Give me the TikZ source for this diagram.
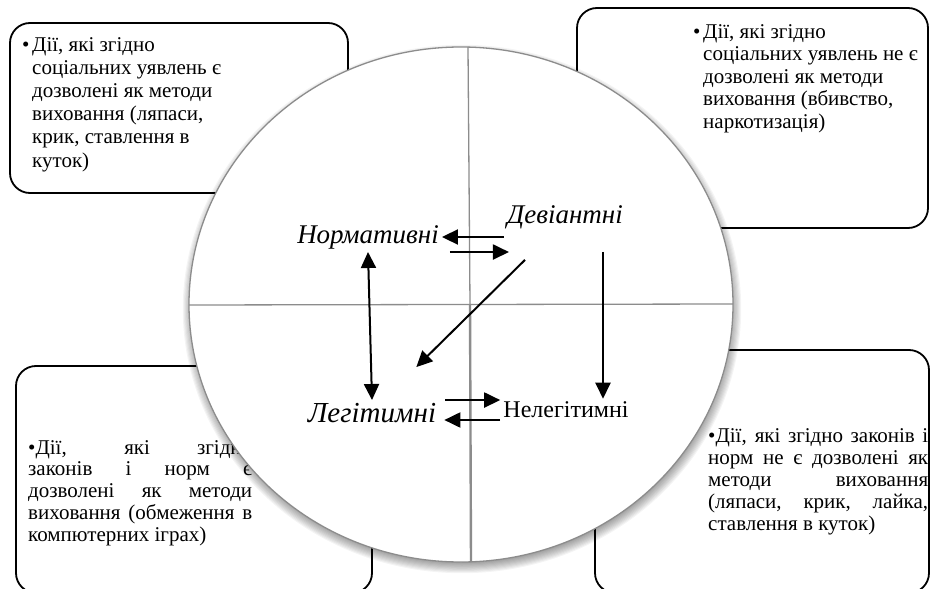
\documentclass[tikz,border=0pt]{standalone}
\usepackage{fontspec}
\setmainfont{Liberation Serif}
\usetikzlibrary{arrows.meta}
\tikzset{
  notebox/.style={draw=black, line width=1.8pt, rounded corners=20pt},
  boxtext/.style={anchor=north west, inner sep=0pt, font=\fontsize{21}{22.6}\selectfont},
  lbl/.style={inner sep=3pt, font=\fontsize{27}{30}\selectfont\itshape},
  arr/.style={line width=2pt, -{Triangle[length=16pt,width=15pt]}},
  darr/.style={line width=2pt, {Triangle[length=16pt,width=15pt]}-{Triangle[length=16pt,width=15pt]}},
  quarter/.style={draw=black!45, line width=1.3pt},
}
\newcommand{\bul}{\makebox[10pt][l]{•}}
\newcommand{\ind}{\hspace*{10pt}}
\begin{document}
\begin{tikzpicture}[x=1pt, y=-1pt]
    \clip (0,0) rectangle (930,589);
    \draw[notebox] (10,23) rectangle (348,193);
    \draw[notebox] (577,8) rectangle (928,228);
    \draw[notebox] (16,366) rectangle (372,593);
    \draw[notebox] (595,350) rectangle (929,593);
    \node[boxtext, align=left, font=\fontsize{21}{23.2}\selectfont] (tl) at (22,37) {\bul Дії, які згідно\\\ind соціальних уявлень є\\\ind дозволені як методи\\\ind виховання (ляпаси,\\\ind крик, ставлення в\\\ind куток)};
    \node[boxtext, align=left] (tr) at (693,24) {\bul Дії, які згідно\\\ind соціальних уявлень не є\\\ind дозволені як методи\\\ind виховання (вбивство,\\\ind наркотизація)};
    \node[boxtext, text width=224pt, align=justify, font=\fontsize{21}{21.8}\selectfont] (bl) at (28,440) {\tolerance=10000
      •Дії, які згідно\linebreak законів і норм є\linebreak дозволені як методи\linebreak виховання (обмеження в\linebreak компютерних іграх)};
    \node[boxtext, text width=220pt, align=justify, font=\fontsize{21}{22.2}\selectfont] (br) at (708,428) {\tolerance=10000
      •Дії, які згідно законів і\linebreak норм не є дозволені як\linebreak методи виховання\linebreak (ляпаси, крик, лайка,\linebreak ставлення в куток)};
    \foreach \i in {1,...,12}
      \fill[black, opacity=0.045] (462,309) ellipse [x radius={266pt+\i*1.1pt}, y radius={251pt+\i*1.1pt}];
    \draw[quarter, fill=white] (461,304.5) ellipse [x radius=272pt, y radius=257.5pt];
    \draw[quarter] (189,305) -- (733,304);
    \draw[quarter] (468,47) -- (470,304);
    \draw[quarter, line width=2.4pt] (470,304) -- (471,562);
    \node[lbl] (norm) at (368,237) {Нормативні};
    \node[lbl] (dev) at (565,217) {Девіантні};
    \node[lbl, font=\fontsize{29}{31}\selectfont\itshape] (leg) at (372,413) {Легітимні};
    \node[lbl, font=\fontsize{24}{26}\selectfont] (neleg) at (566,410) {Нелегітимні};
    \coordinate (devs) at ([shift={(38,20)}]dev.south);
    \coordinate (nelw) at ([shift={(0,10)}]neleg.west);
    \path (dev.west |- norm.east) edge [arr] (norm.east);
    \path ([xshift=8pt]norm.south east) edge [arr] ([xshift=5pt]dev.west |- norm.south east);
    \path (norm.south) edge [darr] (leg.north);
    \path ([shift={(-40,28)}]dev.south) edge [arr] ([shift={(-23,-33)}]leg.north east);
    \path (devs) edge [arr] (devs |- neleg.north);
    \path ([xshift=6pt]leg.north east) edge [arr] (neleg.west |- leg.north east);
    \path (nelw) edge [arr] ([xshift=5pt]leg.east |- nelw);
\end{tikzpicture}
\end{document}
